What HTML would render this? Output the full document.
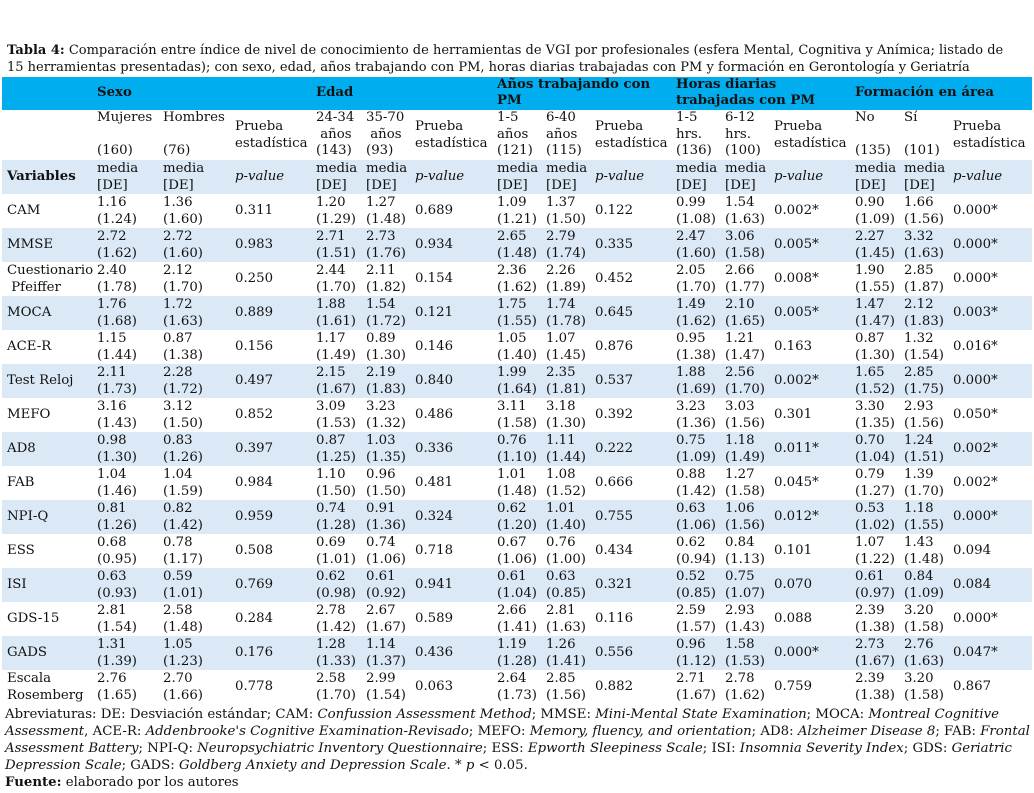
<!DOCTYPE html>
<html><head><meta charset="utf-8">
<style>
body{margin:0;width:1034px;height:793px;background:#fff;position:relative;overflow:hidden;font-family:"DejaVu Serif","Liberation Serif",serif;font-size:13.3px;color:#111;}
.a{position:absolute;white-space:nowrap;line-height:16.5px;}
.band{position:absolute;left:2px;width:1030px;}
i{font-style:italic}
</style></head><body>
<div class="a" style="left:7px;top:42px;line-height:17px;font-size:13px"><b>Tabla 4:</b> Comparación entre índice de nivel de conocimiento de herramientas de VGI por profesionales (esfera Mental, Cognitiva y Anímica; listado de<br>15 herramientas presentadas); con sexo, edad, años trabajando con PM, horas diarias trabajadas con PM y formación en Gerontología y Geriatría</div>
<div class="band" style="top:77px;height:33px;background:#00aeef"></div>
<div class="band" style="top:160px;height:34px;background:#dbe8f6"></div>
<div id="rows"></div>
<div class="a" style="left:5px;top:706px;line-height:17px">Abreviaturas: DE: Desviación estándar; CAM: <i>Confussion Assessment Method</i>; MMSE: <i>Mini-Mental State Examination</i>; MOCA: <i>Montreal Cognitive</i><br><i>Assessment</i>, ACE-R: <i>Addenbrooke's Cognitive Examination-Revisado</i>; MEFO: <i>Memory, fluency, and orientation</i>; AD8: <i>Alzheimer Disease 8</i>; FAB: <i>Frontal</i><br><i>Assessment Battery</i>; NPI-Q: <i>Neuropsychiatric Inventory Questionnaire</i>; ESS: <i>Epworth Sleepiness Scale</i>; ISI: <i>Insomnia Severity Index</i>; GDS: <i>Geriatric</i><br><i>Depression Scale</i>; GADS: <i>Goldberg Anxiety and Depression Scale.</i> * <i>p</i> &lt; 0.05.<br><b>Fuente:</b> elaborado por los autores</div>
<script>
const colX=[7,97,163,235,316,366,415,497,546,595,676,725,774,855,904,953];
const groupNames=["Sexo","Edad","Años trabajando con<br>PM","Horas diarias<br>trabajadas con PM","Formación en área"];
const subLabels=[["Mujeres<br><br>(160)","Hombres<br><br>(76)"],["24-34<br>&nbsp;años<br>(143)","35-70<br>&nbsp;años<br>(93)"],["1-5<br>años<br>(121)","6-40<br>años<br>(115)"],["1-5<br>hrs.<br>(136)","6-12<br>hrs.<br>(100)"],["No<br><br>(135)","Sí<br><br>(101)"]];
const varNames=["CAM","MMSE","Cuestionario<br>&nbsp;Pfeiffer","MOCA","ACE-R","Test Reloj","MEFO","AD8","FAB","NPI-Q","ESS","ISI","GDS-15","GADS","Escala<br>Rosemberg"];
const means=[
[[1.16,1.36],[1.20,1.27],[1.09,1.37],[0.99,1.54],[0.90,1.66]],
[[2.72,2.72],[2.71,2.73],[2.65,2.79],[2.47,3.06],[2.27,3.32]],
[[2.40,2.12],[2.44,2.11],[2.36,2.26],[2.05,2.66],[1.90,2.85]],
[[1.76,1.72],[1.88,1.54],[1.75,1.74],[1.49,2.10],[1.47,2.12]],
[[1.15,0.87],[1.17,0.89],[1.05,1.07],[0.95,1.21],[0.87,1.32]],
[[2.11,2.28],[2.15,2.19],[1.99,2.35],[1.88,2.56],[1.65,2.85]],
[[3.16,3.12],[3.09,3.23],[3.11,3.18],[3.23,3.03],[3.30,2.93]],
[[0.98,0.83],[0.87,1.03],[0.76,1.11],[0.75,1.18],[0.70,1.24]],
[[1.04,1.04],[1.10,0.96],[1.01,1.08],[0.88,1.27],[0.79,1.39]],
[[0.81,0.82],[0.74,0.91],[0.62,1.01],[0.63,1.06],[0.53,1.18]],
[[0.68,0.78],[0.69,0.74],[0.67,0.76],[0.62,0.84],[1.07,1.43]],
[[0.63,0.59],[0.62,0.61],[0.61,0.63],[0.52,0.75],[0.61,0.84]],
[[2.81,2.58],[2.78,2.67],[2.66,2.81],[2.59,2.93],[2.39,3.20]],
[[1.31,1.05],[1.28,1.14],[1.19,1.26],[0.96,1.58],[2.73,2.76]],
[[2.76,2.70],[2.58,2.99],[2.64,2.85],[2.71,2.78],[2.39,3.20]]];
const sds=[
[[1.24,1.60],[1.29,1.48],[1.21,1.50],[1.08,1.63],[1.09,1.56]],
[[1.62,1.60],[1.51,1.76],[1.48,1.74],[1.60,1.58],[1.45,1.63]],
[[1.78,1.70],[1.70,1.82],[1.62,1.89],[1.70,1.77],[1.55,1.87]],
[[1.68,1.63],[1.61,1.72],[1.55,1.78],[1.62,1.65],[1.47,1.83]],
[[1.44,1.38],[1.49,1.30],[1.40,1.45],[1.38,1.47],[1.30,1.54]],
[[1.73,1.72],[1.67,1.83],[1.64,1.81],[1.69,1.70],[1.52,1.75]],
[[1.43,1.50],[1.53,1.32],[1.58,1.30],[1.36,1.56],[1.35,1.56]],
[[1.30,1.26],[1.25,1.35],[1.10,1.44],[1.09,1.49],[1.04,1.51]],
[[1.46,1.59],[1.50,1.50],[1.48,1.52],[1.42,1.58],[1.27,1.70]],
[[1.26,1.42],[1.28,1.36],[1.20,1.40],[1.06,1.56],[1.02,1.55]],
[[0.95,1.17],[1.01,1.06],[1.06,1.00],[0.94,1.13],[1.22,1.48]],
[[0.93,1.01],[0.98,0.92],[1.04,0.85],[0.85,1.07],[0.97,1.09]],
[[1.54,1.48],[1.42,1.67],[1.41,1.63],[1.57,1.43],[1.38,1.58]],
[[1.39,1.23],[1.33,1.37],[1.28,1.41],[1.12,1.53],[1.67,1.63]],
[[1.65,1.66],[1.70,1.54],[1.73,1.56],[1.67,1.62],[1.38,1.58]]];
const pvals=[
["0.311","0.689","0.122","0.002*","0.000*"],
["0.983","0.934","0.335","0.005*","0.000*"],
["0.250","0.154","0.452","0.008*","0.000*"],
["0.889","0.121","0.645","0.005*","0.003*"],
["0.156","0.146","0.876","0.163","0.016*"],
["0.497","0.840","0.537","0.002*","0.000*"],
["0.852","0.486","0.392","0.301","0.050*"],
["0.397","0.336","0.222","0.011*","0.002*"],
["0.984","0.481","0.666","0.045*","0.002*"],
["0.959","0.324","0.755","0.012*","0.000*"],
["0.508","0.718","0.434","0.101","0.094"],
["0.769","0.941","0.321","0.070","0.084"],
["0.284","0.589","0.116","0.088","0.000*"],
["0.176","0.436","0.556","0.000*","0.047*"],
["0.778","0.063","0.882","0.759","0.867"]];
const root=document.getElementById('rows');
function cell(x,y,html,name){const d=document.createElement('div');d.className='a';d.style.left=x+'px';d.style.top=y+'px';d.innerHTML=html;


root.appendChild(d);return d;}
groupNames.forEach((g,k)=>{const two=g.indexOf('<br>')>=0;const c=cell(colX[1+3*k],two?77:85,'<b>'+g+'</b>','group-header');c.style.lineHeight='16px';});
subLabels.forEach((s,k)=>{cell(colX[1+3*k],110,s[0],'subgroup-label');cell(colX[2+3*k],110,s[1],'subgroup-label');cell(colX[3+3*k],119,'Prueba<br>estadística','test-label');});
cell(colX[0],169,'<b>Variables</b>','variables-label');
for(let k=0;k<5;k++){cell(colX[1+3*k],161,'media<br>[DE]','media-label');cell(colX[2+3*k],161,'media<br>[DE]','media-label');cell(colX[3+3*k],169,'<i>p-value</i>','pvalue-label');}
varNames.forEach((v,r)=>{const y=194+34*r;
 if(r%2==1){const b=document.createElement('div');b.className='band';b.style.top=y+'px';b.style.height='34px';b.style.background='#dbe8f6';
 
 
 root.insertBefore(b,root.firstChild);}
 const two=v.indexOf('<br>')>=0;
 cell(colX[0],two?y+1:y+9,v,'variable-name');
 for(let k=0;k<5;k++){
  cell(colX[1+3*k],y+1,means[r][k][0].toFixed(2)+'<br>('+sds[r][k][0].toFixed(2)+')','mean-sd');
  cell(colX[2+3*k],y+1,means[r][k][1].toFixed(2)+'<br>('+sds[r][k][1].toFixed(2)+')','mean-sd');
  cell(colX[3+3*k],y+9,pvals[r][k],'p-value');
 }});
</script>
</body></html>
